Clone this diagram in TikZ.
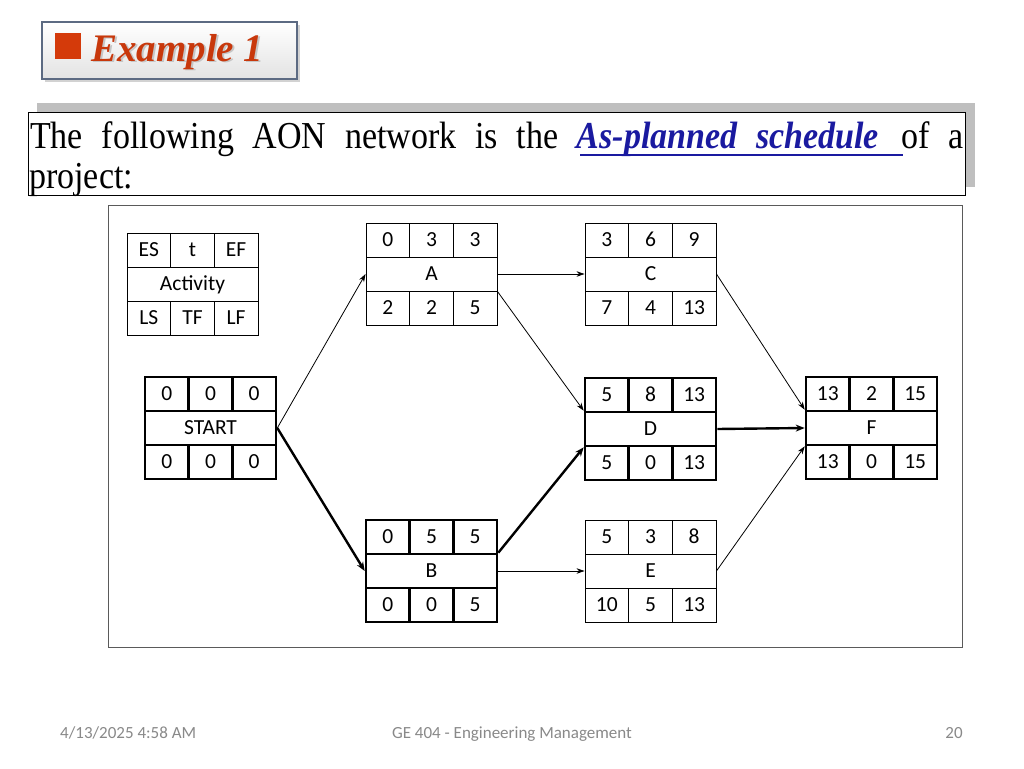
\documentclass[tikz,border=0pt]{standalone}
\usepackage{fontspec}
\setmainfont{Liberation Serif}
\newfontfamily\calfont{Carlito}
\usetikzlibrary{arrows.meta}
\definecolor{exred}{RGB}{200,56,12}
\definecolor{sqred}{RGB}{212,58,10}
\definecolor{linkblue}{RGB}{26,26,160}
\definecolor{footgray}{RGB}{137,137,137}
\definecolor{shadowgray}{RGB}{191,191,191}
\definecolor{bevel}{RGB}{92,106,130}
\definecolor{framegray}{RGB}{90,90,90}

\tikzset{
  cell/.style={draw, minimum width=43.67pt, minimum height=34pt, inner sep=0pt,
    text height=13.4pt, text depth=0pt,
    font=\calfont\fontsize{21.5}{24}\selectfont},
  midcell/.style={cell, minimum width=131pt},
  thinb/.style={line width=0.9pt},
  thickb/.style={line width=2.6pt},
  arr/.style={-{Stealth[length=8pt,width=5.5pt]}, line width=0.8pt},
  critarr/.style={-{Stealth[length=9pt,width=7pt]}, line width=2.4pt},
  foot/.style={font=\calfont\fontsize{17}{19}\selectfont, text=footgray, inner sep=0pt},
  bodytext/.style={anchor=base west, inner sep=0pt, font=\fontsize{34}{36}\selectfont},
}

\newcommand{\aon}[7]{%
  \node[midcell,#4] (#1) at (#2+65.5,#3+51) {#6};
  \aonrow{#1-t}{#4}{#3+17}{#2}#5\relax
  \aonrow{#1-b}{#4}{#3+85}{#2}#7\relax
}
\def\aonrow#1#2#3#4#5,#6,#7\relax{%
  \node[cell,#2] (#11) at (#4+21.83,#3) {#5};
  \node[cell,#2] (#12) at (#4+65.5,#3) {#6};
  \node[cell,#2] (#13) at (#4+109.17,#3) {#7};
}

\begin{document}
\begin{tikzpicture}[x=1pt,y=-1pt]
\useasboundingbox (0,0) rectangle (1024,768);
\fill[white] (0,0) rectangle (1024,768);

% Title button
\fill[gray!35] (45,25) rectangle (300,82);
\draw[bevel, line width=1.6pt, top color=white, bottom color=gray!22] (42,22) rectangle (297,79);
\fill[sqred] (55,33) rectangle (81,59);
\node[anchor=base west, inner sep=0pt, text=gray!45, font=\fontsize{39}{41}\selectfont\bfseries\itshape] (exshadow) at (93,63) {Example 1};
\node[anchor=base west, inner sep=0pt, text=exred, font=\fontsize{39}{41}\selectfont\bfseries\itshape] (extitle) at (91,61) {Example 1};

% Text box
\fill[shadowgray] (37,103) rectangle (975,187);
\draw[fill=white, line width=0.8pt] (28,112) rectangle (965,195);
\node[bodytext] (line1) at (30,148) {\scalebox{1}[1.12]{\makebox[933pt][s]{The following AON network is the \textcolor{linkblue}{\textbf{\textit{As-planned schedule}}\hspace{22pt}}of a}}};
\node[bodytext] (line2) at (29,188) {\scalebox{1}[1.12]{project:}};
\draw[linkblue, line width=2pt] (580,155) -- (903,155);

% Diagram frame
\draw[framegray, line width=0.8pt] (108,205) rectangle (962,647);

% Boxes
\aon{LEG}{127}{233}{thinb}{ES,t,EF}{Activity}{LS,TF,LF}
\aon{A}{366}{223}{thinb}{0,3,3}{A}{2,2,5}
\aon{C}{585}{223}{thinb}{3,6,9}{C}{7,4,13}
\aon{START}{145}{377}{thickb}{0,0,0}{START}{0,0,0}
\aon{D}{585}{378}{thickb}{5,8,13}{D}{5,0,13}
\aon{F}{806}{377}{thickb}{13,2,15}{F}{13,0,15}
\aon{B}{366}{520}{thickb}{0,5,5}{B}{0,0,5}
\aon{E}{585}{520}{thinb}{5,3,8}{E}{10,5,13}

% Connectors
\draw[arr] (START.east) -- (A.west);
\draw[critarr] (START.east) -- (B.west);
\draw[arr] (A.east) -- (C.west);
\draw[arr] (A.south east) -- (D.north west);
\draw[critarr] (B.north east) -- (D.south west);
\draw[arr] (B.east) -- (E.west);
\draw[critarr] (D.east) -- (F.west);
\draw[arr] (C.east) -- (F.north west);
\draw[arr] (E.east) -- (F.south west);

% Footer
\node[foot, anchor=base west] (date) at (60,738) {4/13/2025 4:58 AM};
\node[foot, anchor=base] (course) at (512,738) {GE 404 - Engineering Management};
\node[foot, anchor=base] (page) at (954,738) {20};
\end{tikzpicture}
\end{document}
